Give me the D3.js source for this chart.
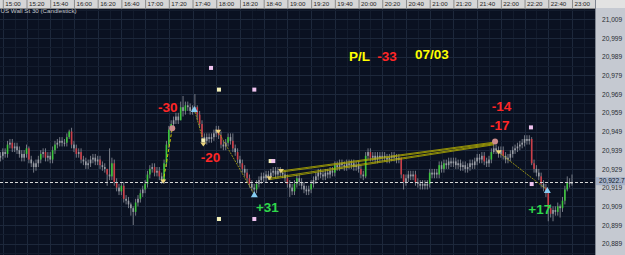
<!DOCTYPE html>
<html>
<head>
<meta charset="utf-8">
<script src="https://cdn.jsdelivr.net/npm/d3@7/dist/d3.min.js"></script>
<style>
  html, body { margin: 0; padding: 0; background: #0a1121; overflow: hidden; }
  svg { display: block; font-family: "Liberation Sans", Arial, sans-serif; }
</style>
</head>
<body>
<svg id="chart" width="625" height="255"></svg>
<script>
// US Wall St 30, 2-minute candles, 07/03
// minutes are counted from 15:00
const firstCandle = -2;      // 14:58
const candleStep = 2;
const firstOpen = 20935;

const closes = [
  20936, 20938, 20937, 20942, 20943, 20940, 20941, 20939, 20937, 20935,
  20937, 20940, 20934, 20932, 20930, 20932, 20934, 20937, 20938, 20935,
  20936, 20934, 20939, 20942, 20943, 20944, 20943, 20943, 20946, 20949,
  20942, 20940, 20937, 20938, 20934, 20933, 20931, 20932, 20934, 20935,
  20933, 20934, 20931, 20930, 20929, 20926, 20925, 20932, 20922, 20919,
  20917, 20920, 20913, 20912, 20910, 20908, 20906, 20911, 20913, 20916,
  20918, 20921, 20926, 20929, 20930, 20927, 20928, 20925, 20923, 20932,
  20942, 20950, 20953, 20955, 20957, 20955, 20962, 20960, 20963, 20962,
  20960, 20961, 20962, 20958, 20953, 20946, 20944, 20946, 20945, 20946,
  20948, 20950, 20947, 20942, 20941, 20943, 20946, 20944, 20940, 20938,
  20934, 20932, 20929, 20927, 20924, 20921, 20919, 20918, 20921, 20923,
  20925, 20924, 20926, 20925, 20927, 20928, 20926, 20928, 20927, 20926,
  20924, 20921, 20919, 20917, 20921, 20924, 20922, 20920, 20918, 20917,
  20918, 20921, 20923, 20925, 20927, 20926, 20925, 20927, 20926, 20928,
  20927, 20931, 20930, 20932, 20931, 20930, 20932, 20931, 20932, 20930,
  20931, 20929, 20926, 20925, 20936, 20938, 20935, 20936, 20934, 20936,
  20935, 20936, 20935, 20934, 20935, 20936, 20935, 20934, 20935, 20926,
  20922, 20924, 20926, 20925, 20926, 20922, 20921, 20920, 20921, 20920,
  20921, 20927, 20926, 20927, 20926, 20931, 20929, 20932, 20931, 20933,
  20932, 20933, 20931, 20932, 20930, 20931, 20929, 20930, 20932, 20931,
  20933, 20935, 20934, 20936, 20933, 20932, 20934, 20938, 20940, 20939,
  20937, 20939, 20936, 20934, 20935, 20937, 20939, 20940, 20941, 20942,
  20943, 20945, 20944, 20945, 20932, 20929, 20927, 20925, 20921, 20919,
  20916, 20908, 20905, 20907, 20906, 20909, 20908, 20912, 20918, 20922,
  20921, 20922
];

// candles whose wicks reach well past the body: [index, high, low]
const longWicks = [
  [12, 20941, 20932], [14, 20933, 20927], [29, 20950, 20945], [45, 20929, 20920],
  [46, 20940, 20923], [47, 20935, 20923], [55, 20911, 20904], [56, 20909, 20899],
  [76, 20965, 20955], [77, 20968, 20957], [82, 20969, 20959], [83, 20963, 20955],
  [98, 20948, 20938], [122, 20923, 20914], [154, 20938, 20924], [169, 20935, 20924],
  [170, 20926, 20918], [181, 20929, 20919], [208, 20943, 20937], [224, 20946, 20931],
  [231, 20917, 20901], [233, 20909, 20901], [236, 20910, 20903], [239, 20925, 20917],
  [241, 20926, 20920]
];

const timeTicks = [0, 20, 40, 60, 80, 100, 120, 140, 160, 180, 200, 220, 240,
  260, 280, 300, 320, 340, 360, 380, 400, 420, 440, 460, 480];
const timeLabels = ["15:00", "15:20", "15:40", "16:00", "16:20", "16:40", "17:00",
  "17:20", "17:40", "18:00", "18:20", "18:40", "19:00", "19:20", "19:40", "20:00",
  "20:20", "20:40", "21:00", "21:20", "21:40", "22:00", "22:20", "22:40", "23:00"];
const priceTicks = [21009, 20999, 20989, 20979, 20969, 20959, 20949, 20939,
  20929, 20919, 20909, 20899, 20889];
const lastPrice = 20922;
const lastQuote = 20922.7;

// trade lines [t1, p1, t2, p2]
const tradeDashed = [[135.3, 20922.2, 142.9, 20950.7]];
const tradeDotted = [
  [161.5, 20961.0, 169.1, 20943.9],
  [181.7, 20948.9, 212.1, 20915.4],
  [418.2, 20937.9, 459.2, 20917.7]
];
const tradeOpen = [
  [234.6, 20927.9, 414.2, 20943.3],
  [234.6, 20927.3, 414.2, 20942.8],
  [224.7, 20924.0, 414.2, 20942.4],
  [224.7, 20923.3, 414.2, 20941.9]
];

// markers [t, p]
const sellMarks = [[135.3, 20922.2], [181.7, 20948.9], [224.7, 20924.0],
  [234.6, 20927.9], [418.2, 20937.9], [169.1, 20942.0]];
const buyMarks = [[161.5, 20961.0], [212.1, 20915.4], [459.2, 20917.7]];
const entryDots = [[142.9, 20950.7], [415.1, 20943.6]];
const yellowBoxes = [[182.3, 20971.4], [182.3, 20902.2], [225.9, 20933.2], [169.1, 20944.2]];
const pinkBoxes = [[175.6, 20983.0], [212.1, 20971.4], [212.1, 20902.2],
  [228.1, 20933.2], [445.4, 20951.2], [446.0, 20920.9]];

// text notes
const noteText = ["-30", "-20", "+31", "-14", "-17", "+17", "P/L", "-33", "07/03"];
const noteTime = [130.9, 166.9, 213.5, 412.3, 410.9, 443.2, 291.9, 315.8, 347.6];
const notePrice = [20959.6, 20932.5, 20906.1, 20960.1, 20949.8, 20904.9, 20986.7, 20986.7, 20987.6];
const noteKind = ["loss", "loss", "win", "loss", "loss", "win", "info", "loss", "info"];

const W = 625, H = 255, plotR = 595, plotT = 8;
const svg = d3.select('#chart');

const x = d3.scaleLinear().domain([-2.36, 499.4]).range([0, plotR]);
const y = d3.scaleLinear().domain([21009, 20889]).range([19.3, 243.7]);

svg.append('rect').attr('width', W).attr('height', H).attr('fill', '#0a1121');

svg.append('defs').append('clipPath').attr('id', 'plot')
  .append('rect').attr('x', 0).attr('y', plotT).attr('width', plotR).attr('height', H - plotT);

const plot = svg.append('g').attr('clip-path', 'url(#plot)');

// grid
const minorT = d3.range(-10, 500, 10);
plot.append('g').selectAll('line').data(minorT).join('line')
  .attr('x1', d => Math.round(x(d)) + 0.5).attr('x2', d => Math.round(x(d)) + 0.5)
  .attr('y1', plotT).attr('y2', H)
  .attr('stroke', d => d % 20 === 0 ? '#1d283b' : '#131c2d');
const minorP = d3.range(20884, 21020, 5);
plot.append('g').selectAll('line').data(minorP).join('line')
  .attr('x1', 0).attr('x2', plotR)
  .attr('y1', d => Math.round(y(d)) + 0.5).attr('y2', d => Math.round(y(d)) + 0.5)
  .attr('stroke', d => (d - 20889) % 10 === 0 ? '#1d283b' : '#131c2d');

// candles
const candles = closes.map((c, i) => {
  const o = i === 0 ? firstOpen : closes[i - 1];
  return { t: firstCandle + i * candleStep, o, c,
    h: Math.max(o, c) + 2, l: Math.min(o, c) - 2 };
});
longWicks.forEach(([i, h, l]) => { candles[i].h = h; candles[i].l = l; });

const cg = plot.append('g');
cg.selectAll('line').data(candles).join('line')
  .attr('x1', d => x(d.t)).attr('x2', d => x(d.t))
  .attr('y1', d => y(d.h)).attr('y2', d => y(d.l))
  .attr('stroke', '#80858f').attr('stroke-width', 0.9);
cg.selectAll('rect').data(candles).join('rect')
  .attr('x', d => x(d.t) - 0.8).attr('width', 1.6)
  .attr('y', d => y(Math.max(d.o, d.c)))
  .attr('height', d => Math.max(1, y(Math.min(d.o, d.c)) - y(Math.max(d.o, d.c))))
  .attr('fill', d => d.c - d.o >= 3 ? '#3cc63c' : d.o - d.c >= 3 ? '#cc3e48' : '#9a9ea6');

// last price line
plot.append('line')
  .attr('x1', 0).attr('x2', plotR)
  .attr('y1', Math.round(y(lastPrice)) + 0.5).attr('y2', Math.round(y(lastPrice)) + 0.5)
  .attr('stroke', '#d8d8d8').attr('stroke-dasharray', '3,2');

// trade lines
const seg = sel => sel
  .attr('x1', d => x(d[0])).attr('y1', d => y(d[1]))
  .attr('x2', d => x(d[2])).attr('y2', d => y(d[3]));
plot.append('g').selectAll('line').data(tradeOpen).join('line').call(seg)
  .attr('stroke', '#b4ae00').attr('stroke-width', 0.8);
plot.append('g').selectAll('line').data(tradeDotted).join('line').call(seg)
  .attr('stroke', '#a09a14').attr('stroke-width', 0.9).attr('stroke-dasharray', '2,1');
plot.append('g').selectAll('line').data(tradeDashed).join('line').call(seg)
  .attr('stroke', '#d0ca00').attr('stroke-width', 1).attr('stroke-dasharray', '3,2');

// markers
plot.append('g').selectAll('rect').data(yellowBoxes).join('rect')
  .attr('x', d => x(d[0]) - 2).attr('y', d => y(d[1]) - 2)
  .attr('width', 4).attr('height', 4).attr('fill', '#f4f0b8');
plot.append('g').selectAll('rect').data(pinkBoxes).join('rect')
  .attr('x', d => x(d[0]) - 2).attr('y', d => y(d[1]) - 2)
  .attr('width', 4).attr('height', 4).attr('fill', '#eec2ee');
plot.append('g').selectAll('path').data(sellMarks).join('path')
  .attr('transform', d => `translate(${x(d[0])},${y(d[1])})`)
  .attr('d', 'M-3,-2L3,-2L0,2Z').attr('fill', '#e9d27a');
plot.append('g').selectAll('path').data(buyMarks).join('path')
  .attr('transform', d => `translate(${x(d[0])},${y(d[1])})`)
  .attr('d', 'M-3.5,3L3.5,3L0,-3Z').attr('fill', '#86ccf2');
plot.append('g').selectAll('circle').data(entryDots).join('circle')
  .attr('cx', d => x(d[0])).attr('cy', d => y(d[1])).attr('r', 3)
  .attr('fill', '#cc8c8c');

// notes
const noteColor = { loss: '#ff2626', win: '#2ed84a', info: '#ffff00' };
svg.append('g').selectAll('text').data(noteText).join('text')
  .attr('x', (d, i) => x(noteTime[i])).attr('y', (d, i) => y(notePrice[i]))
  .attr('font-size', 13.5).attr('font-weight', 'bold')
  .attr('fill', (d, i) => noteColor[noteKind[i]])
  .text(d => d);

// title
svg.append('text').attr('x', 0.5).attr('y', 12.8)
  .attr('font-size', 6.2).attr('fill', '#c4c8cc')
  .text('US Wall St 30 (Candlestick)');

// top time strip
svg.append('rect').attr('width', W).attr('height', plotT).attr('fill', '#d6d6d6');
const xAxis = svg.append('g').attr('transform', `translate(0,${plotT})`)
  .call(d3.axisTop(x).tickValues(timeTicks).tickFormat((d, i) => timeLabels[i]).tickSize(plotT));
xAxis.select('.domain').attr('stroke', '#8a8a8a').attr('d', `M0,0.5H${W}`);
xAxis.selectAll('.tick line').attr('stroke', '#8a8a8a');
xAxis.selectAll('.tick text')
  .attr('text-anchor', 'start').attr('x', 2).attr('y', -1.6).attr('dy', null)
  .attr('font-size', 6.2).attr('fill', '#1e1e1e').attr('font-family', null);

// right price axis
svg.append('rect').attr('x', plotR).attr('y', plotT).attr('width', W - plotR).attr('height', H - plotT)
  .attr('fill', '#c5c9d1');
svg.append('rect').attr('x', plotR).attr('y', 0).attr('width', W - plotR).attr('height', plotT)
  .attr('fill', '#e2e2e2');
svg.append('line').attr('x1', plotR + 0.5).attr('x2', plotR + 0.5).attr('y1', 0).attr('y2', H)
  .attr('stroke', '#7f8590');
const yAxis = svg.append('g').attr('transform', `translate(${plotR},0)`)
  .call(d3.axisRight(y).tickValues(priceTicks).tickFormat(d3.format(',')).tickSize(0).tickPadding(7));
yAxis.select('.domain').remove();
yAxis.selectAll('.tick text').attr('font-size', 6.6).attr('fill', '#2a2d33').attr('font-family', null);

// last quote tag
const tagY = y(lastQuote);
svg.append('rect').attr('x', plotR + 1).attr('y', tagY - 3.5).attr('width', W - plotR).attr('height', 8)
  .attr('fill', '#a6b2c8');
svg.append('text').attr('x', plotR + 4).attr('y', tagY + 0.5).attr('dy', '0.32em')
  .attr('font-size', 6.6).attr('fill', '#10182a').text(d3.format(',.1f')(lastQuote));
</script>
</body>
</html>
